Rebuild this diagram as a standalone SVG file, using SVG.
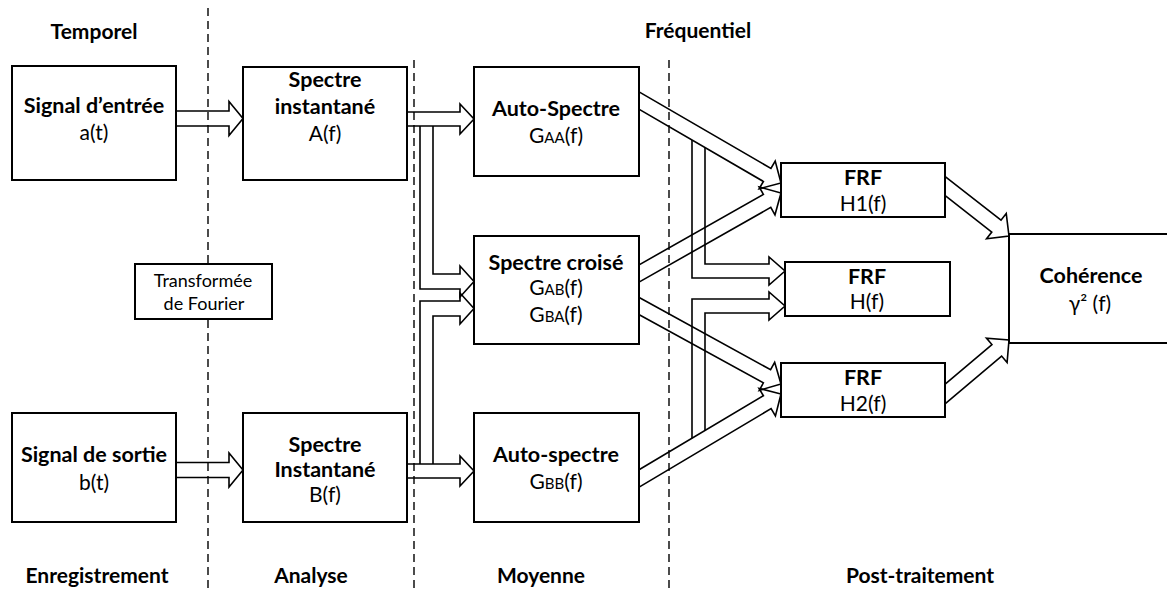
<svg xmlns="http://www.w3.org/2000/svg" width="1167" height="590" viewBox="0 0 1167 590">
<style>
.box{fill:#fff;stroke:#000;stroke-width:2}
.conn{fill:none;stroke:#000;stroke-width:1.6;stroke-linejoin:miter}
.dash{fill:none;stroke:#000;stroke-width:1.4;stroke-dasharray:8 5}
.b{font-family:Lato,"Liberation Sans",sans-serif;font-weight:bold;font-size:21.5px;text-anchor:middle;fill:#000}
.r{font-family:Lato,"Liberation Sans",sans-serif;font-weight:normal;font-size:21px;text-anchor:middle;fill:#000}
.lab{font-family:Lato,"Liberation Sans",sans-serif;font-weight:bold;font-size:21px;text-anchor:middle;fill:#000}
.sm{font-family:Lato,"Liberation Sans",sans-serif;font-size:18px;text-anchor:middle;fill:#000}
.sub{font-size:15px}
</style>
<rect width="1167" height="590" fill="#fff"/>
<g id="separators">
<line class="dash" x1="208" y1="8" x2="208" y2="590"/>
<line class="dash" x1="414" y1="60" x2="414" y2="590"/>
<line class="dash" x1="669" y1="60" x2="669" y2="590"/>
</g>
<g id="labels">
<text class="lab" x="94" y="39">Temporel</text>
<text class="lab" x="698" y="38">Fréquentiel</text>
<text class="lab" x="97" y="583">Enregistrement</text>
<text class="lab" x="311" y="583">Analyse</text>
<text class="lab" x="541" y="583">Moyenne</text>
<text class="lab" x="920" y="583">Post-traitement</text>
</g>
<g id="connectors">
<path class="conn" d="M170,111 H229 V101.5 L243,118.5 L229,135.5 V126 H170"/>
<path class="conn" d="M170,462.5 H229 V453 L243,470 L229,487 V477.5 H170"/>
<path class="conn" d="M400,112 H460 V104 L474,119 L460,134 V126 H400"/>
<path class="conn" d="M433,126 V274 H460 V266 L474,281.5 L460,297 V289 H420 V126"/>
<path class="conn" d="M400,464 H460 V456 L474,471 L460,486 V478 H400"/>
<path class="conn" d="M420,464 V301 H460 V293 L474,308.5 L460,324 V316 H433 V464"/>
<polyline class="conn" points="-170,-7.5 -16,-7.5 -16,-16 0,0 -16,16 -16,7.5 -170,7.5" transform="translate(781,183) rotate(30.16)"/>
<polyline class="conn" points="-169,-7.5 -16,-7.5 -16,-16 0,0 -16,16 -16,7.5 -169,7.5" transform="translate(781,193) rotate(-29.55)"/>
<polyline class="conn" points="-168,-7.5 -16,-7.5 -16,-16 0,0 -16,16 -16,7.5 -168,7.5" transform="translate(781,384) rotate(28.78)"/>
<polyline class="conn" points="-171,-7.5 -16,-7.5 -16,-16 0,0 -16,16 -16,7.5 -171,7.5" transform="translate(781,394) rotate(-30.75)"/>
<path class="conn" d="M705,147.5 V264 H769 V257 L785,271 L769,285 V278 H692 V140"/>
<path class="conn" d="M692,438.2 V299 H769 V292 L785,306 L769,320 V313 H705 V430.5"/>
<polyline class="conn" points="-88,-7.5 -16,-7.5 -16,-16 0,0 -16,16 -16,7.5 -88,7.5" transform="translate(1009,236) rotate(38)"/>
<polyline class="conn" points="-90,-7.5 -16,-7.5 -16,-16 0,0 -16,16 -16,7.5 -90,7.5" transform="translate(1009,340) rotate(-40.16)"/>
</g>
<g id="fourier">
<rect class="box" x="135" y="264" width="137" height="55" stroke-width="1.6"/>
<text class="sm" x="203" y="287">Transformée</text>
<text class="sm" x="204" y="310">de Fourier</text>
</g>
<g id="signal-entree">
<rect class="box" x="12" y="66" width="164" height="114"/>
<text class="b" x="94" y="113">Signal d’entrée</text>
<text class="r" x="94" y="140">a(t)</text>
</g>
<g id="signal-sortie">
<rect class="box" x="12" y="413" width="164" height="109"/>
<text class="b" x="94" y="462">Signal de sortie</text>
<text class="r" x="94" y="490">b(t)</text>
</g>
<g id="spectre-A">
<rect class="box" x="243" y="67" width="164" height="113"/>
<text class="b" x="325" y="87">Spectre</text>
<text class="b" x="325" y="114">instantané</text>
<text class="r" x="325" y="141">A(f)</text>
</g>
<g id="spectre-B">
<rect class="box" x="243" y="413" width="164" height="109"/>
<text class="b" x="325" y="452">Spectre</text>
<text class="b" x="325" y="477">Instantané</text>
<text class="r" x="325" y="502">B(f)</text>
</g>
<g id="auto-AA">
<rect class="box" x="474" y="67" width="165" height="109"/>
<text class="b" x="556" y="116">Auto-Spectre</text>
<text class="r" x="556" y="143">G<tspan class="sub">AA</tspan>(f)</text>
</g>
<g id="croise">
<rect class="box" x="474" y="236" width="165" height="108"/>
<text class="b" x="556" y="270">Spectre croisé</text>
<text class="r" x="556" y="295">G<tspan class="sub">AB</tspan>(f)</text>
<text class="r" x="556" y="322">G<tspan class="sub">BA</tspan>(f)</text>
</g>
<g id="auto-BB">
<rect class="box" x="474" y="413" width="165" height="109"/>
<text class="b" x="556" y="462">Auto-spectre</text>
<text class="r" x="556" y="489">G<tspan class="sub">BB</tspan>(f)</text>
</g>
<g id="frf-H1">
<rect class="box" x="781" y="163" width="164" height="54"/>
<text class="b" x="863" y="185">FRF</text>
<text class="r" x="863" y="211">H1(f)</text>
</g>
<g id="frf-H">
<rect class="box" x="785" y="262" width="165" height="54"/>
<text class="b" x="867" y="284">FRF</text>
<text class="r" x="867" y="309">H(f)</text>
</g>
<g id="frf-H2">
<rect class="box" x="781" y="363" width="164" height="54"/>
<text class="b" x="863" y="385">FRF</text>
<text class="r" x="863" y="411">H2(f)</text>
</g>
<g id="coherence">
<rect class="box" x="1009" y="234" width="200" height="109"/>
<text class="b" x="1091" y="283">Cohérence</text>
<text class="r" x="1090" y="311">γ² (f)</text>
</g>
</svg>
